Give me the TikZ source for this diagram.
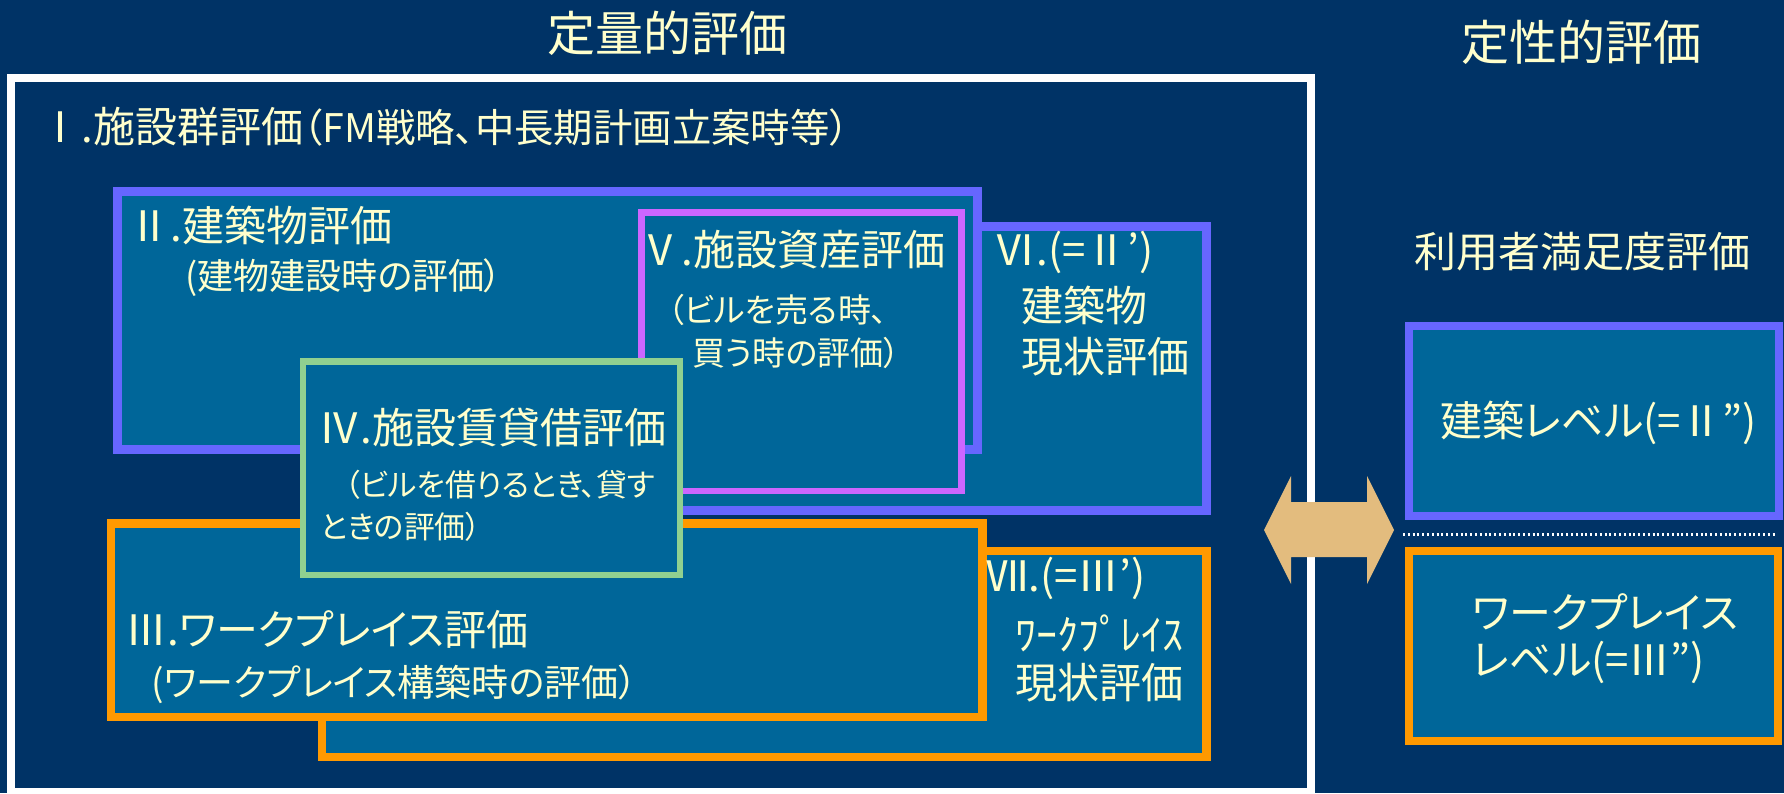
\documentclass[tikz,border=0pt]{standalone}
\usepackage{fontspec}
\setmainfont{Noto Sans CJK JP}[RawFeature=+palt]
\newfontfamily\fwfont{Noto Sans CJK JP}
\newcommand{\rnum}[1]{{\fwfont #1}}
\definecolor{bgnavy}{RGB}{0,51,102}
\definecolor{boxfill}{RGB}{0,102,153}
\definecolor{bblue}{RGB}{102,102,255}
\definecolor{bpurple}{RGB}{204,102,255}
\definecolor{bgreen}{RGB}{144,208,144}
\definecolor{borange}{RGB}{255,153,0}
\definecolor{txtyellow}{RGB}{255,255,204}
\definecolor{arrowtan}{RGB}{227,188,126}
\tikzset{
  bluebox/.style={fill=boxfill, draw=bblue, line width=4.5pt},
  purplebox/.style={fill=boxfill, draw=bpurple, line width=3.2pt},
  greenbox/.style={fill=boxfill, draw=bgreen, line width=3.3pt},
  orangebox/.style={fill=boxfill, draw=borange, line width=4.3pt},
  rbluebox/.style={fill=boxfill, draw=bblue, line width=4pt},
  rorangebox/.style={fill=boxfill, draw=borange, line width=4pt},
  lbl/.style={text=txtyellow, inner sep=0pt, anchor=west, font=\fontsize{21}{25}\selectfont},
  sub/.style={lbl, font=\fontsize{#1}{#1}\selectfont},
  ttl/.style={text=txtyellow, inner sep=0pt, anchor=center, font=\fontsize{24}{28}\selectfont},
}
\begin{document}
\begin{tikzpicture}[x=0.5pt,y=-0.5pt]
\useasboundingbox (0,0) rectangle (1784,793);
\clip (0,0) rectangle (1784,793);
\fill[bgnavy] (0,0) rectangle (1784,793);

% titles
\node[ttl] (tq) at (667,33) {定量的評価};
\node[ttl] (tql) at (1581,42) {定性的評価};

% white frame
\draw[white, line width=4pt] (11,78) rectangle (1311,792);

\node[lbl] (t1) at (39,127) {\rnum{Ⅰ}.施設群評価{\fontsize{19.7}{23}\selectfont（FM戦略、中長期計画立案時等）}};

% boxes (back to front)
\draw[bluebox] (480,226) rectangle (1206,510);
\draw[bluebox] (117.5,191.5) rectangle (977,449);
\draw[purplebox] (641.5,212.5) rectangle (961.5,491);
\draw[orangebox] (322,551) rectangle (1206.5,757);
\draw[orangebox] (111,523.5) rectangle (982.5,717);
\draw[greenbox] (303,361.5) rectangle (680,575);

% II
\node[lbl] (t2a) at (128,225) {\rnum{Ⅱ}.建築物評価};
\node[sub=18] (t2b) at (185,278) {(建物建設時の評価）};
% V
\node[lbl] (t5a) at (639,250) {\rnum{Ⅴ}.施設資産評価};
\node[sub=16.5] (t5b) at (667,310) {（ビルを売る時、};
\node[sub=16.5] (t5c) at (692,353) {買う時の評価）};
% VI
\node[lbl] (t6a) at (994,252) {Ⅵ.(=Ⅱ’)};
\node[lbl] (t6b) at (1021,305) {建築物};
\node[lbl] (t6c) at (1021,357) {現状評価};
% IV
\node[lbl] (t4a) at (318,428) {\rnum{Ⅳ}.施設賃貸借評価};
\node[sub=15.4] (t4b) at (344,485) {（ビルを借りるとき、貸す};
\node[sub=15.4] (t4c) at (320,527) {ときの評価）};
% III
\node[lbl] (t3a) at (125,630) {\rnum{Ⅲ}.ワークプレイス評価};
\node[sub=18.5] (t3b) at (151,684) {(ワークプレイス構築時の評価）};
% VII
\node[lbl] (t7a) at (986,578) {Ⅶ.(=Ⅲ’)};
\node[lbl] (t7b) at (1015,633) {ﾜｰｸﾌﾟﾚｲｽ};
\node[lbl] (t7c) at (1015,683) {現状評価};

% right side
\node[lbl] (ts) at (1414,252) {利用者満足度評価};
\draw[rbluebox] (1409,326) rectangle (1779,516);
\draw[white, line width=1.2pt, dash pattern=on 1pt off 1.4pt] (1403,534.5) -- (1775,534.5);
\draw[rorangebox] (1409,551) rectangle (1777.5,741);
\node[lbl] (tr1) at (1440,423) {建築レベル(=Ⅱ”)};
\node[lbl] (tr2) at (1472,612) {ワークプレイス};
\node[lbl] (tr3) at (1472,662) {レベル(=Ⅲ”)};

% double arrow
\fill[arrowtan] (1264,530) -- (1291,476) -- (1291,502) -- (1367,502) -- (1367,476)
  -- (1394,530) -- (1367,584) -- (1367,557) -- (1291,557) -- (1291,584) -- cycle;
\end{tikzpicture}
\end{document}
